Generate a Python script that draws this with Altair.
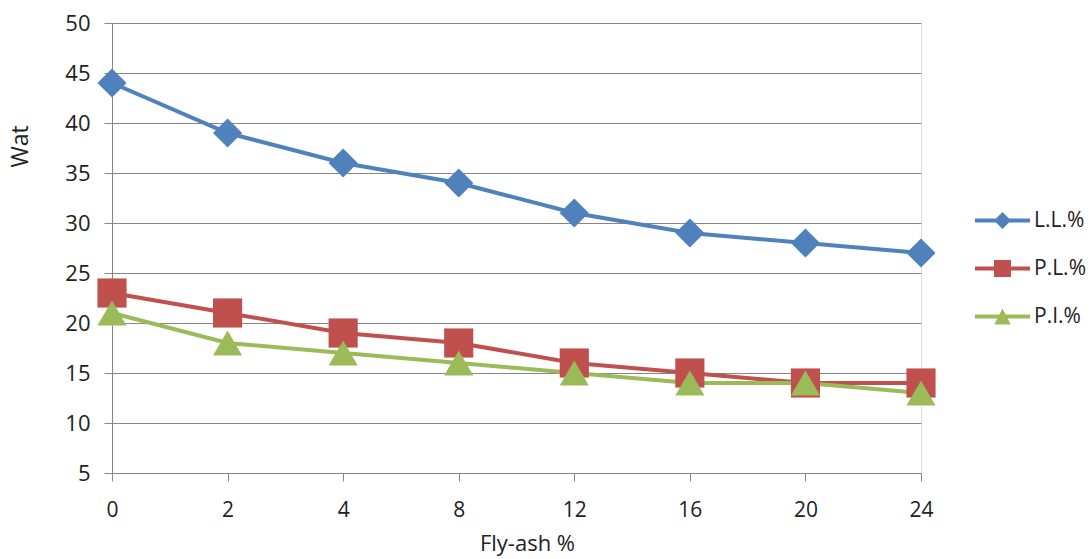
import altair as alt
import pandas as pd

fly_ash = ["0", "2", "4", "8", "12", "16", "20", "24"]
ll = [44, 39, 36, 34, 31, 29, 28, 27]
pl = [23, 21, 19, 18, 16, 15, 14, 14]
pi = [21, 18, 17, 16, 15, 14, 14, 13]
series_names = ["L.L.%", "P.L.%", "P.I.%"]
colors = ["#4F81BD", "#C0504D", "#9BBB59"]
shapes = ["diamond", "square", "triangle-up"]
legend_paths = [
    "M-2.4,-0.17 H2.4 V0.17 H-2.4 Z M0,-0.74 L0.74,0 L0,0.74 L-0.74,0 Z",
    "M-2.4,-0.17 H2.4 V0.17 H-2.4 Z M-0.74,-0.74 H0.74 V0.74 H-0.74 Z",
    "M-2.4,-0.17 H2.4 V0.17 H-2.4 Z M0,-0.7 L0.72,0.7 L-0.72,0.7 Z",
]

rows = []
for name, vals in zip(series_names, [ll, pl, pi]):
    for f, v in zip(fly_ash, vals):
        rows.append({"fly": f, "value": v, "series": name})
df = pd.DataFrame(rows)

FONT = "Open Sans"

x = alt.X("fly:O", sort=fly_ash, scale=alt.Scale(padding=0),
          axis=alt.Axis(title="Fly-ash %", labelAngle=0, labelFontSize=21, titleFontSize=22,
                        labelFont=FONT, titleFont=FONT, labelColor="#222", titleColor="#222",
                        domain=False, tickColor="#868686", tickSize=8, labelPadding=18,
                        titlePadding=13, titleFontWeight="normal", titleX=415))
y = alt.Y("value:Q", scale=alt.Scale(domain=[5, 50], nice=False, zero=False),
          axis=alt.Axis(title="Wat", values=list(range(5, 55, 5)), labelFontSize=22,
                        titleFontSize=23, labelFont=FONT, titleFont=FONT, labelColor="#222",
                        titleColor="#222", gridColor="#868686", grid=True, domainColor="#868686",
                        tickColor="#868686", tickSize=8, labelPadding=14, titleFontWeight="normal",
                        titleX=-92, titleY=144, titleAngle=-90, titleBaseline="middle",
                        titleAlign="left"))
color_scale = alt.Scale(domain=series_names, range=colors)

lines = alt.Chart(df).mark_line(strokeWidth=4).encode(
    x=x, y=y, color=alt.Color("series:N", scale=color_scale, legend=None),
    detail="series:N")

points = alt.Chart(df).mark_point(filled=True, opacity=1, size=850).encode(
    x=x, y=y,
    color=alt.Color("series:N", scale=color_scale, legend=None),
    shape=alt.Shape("series:N", scale=alt.Scale(domain=series_names, range=shapes), legend=None))

legend_layer = alt.Chart(df).mark_point(filled=True, opacity=1).encode(
    x=x, y=y,
    color=alt.Color("series:N", scale=color_scale,
                    legend=alt.Legend(title=None, orient="none", legendX=878, legendY=185,
                                      symbolSize=529, symbolOpacity=1, labelFontSize=21,
                                      labelFont=FONT, labelColor="#222", labelOffset=19,
                                      rowPadding=23)),
    shape=alt.Shape("series:N", scale=alt.Scale(domain=series_names, range=legend_paths))
).transform_filter("false")

chart = alt.layer(lines, points, legend_layer).resolve_scale(
    color="independent", shape="independent"
).properties(
    width=809, height=450, autosize=alt.AutoSizeParams(type="none"),
    padding={"left": 112, "top": 23, "right": 171, "bottom": 86}
).configure_view(stroke=None).configure(background="white")

chart.save("out.html", embed_options={"renderer": "svg", "actions": False})
